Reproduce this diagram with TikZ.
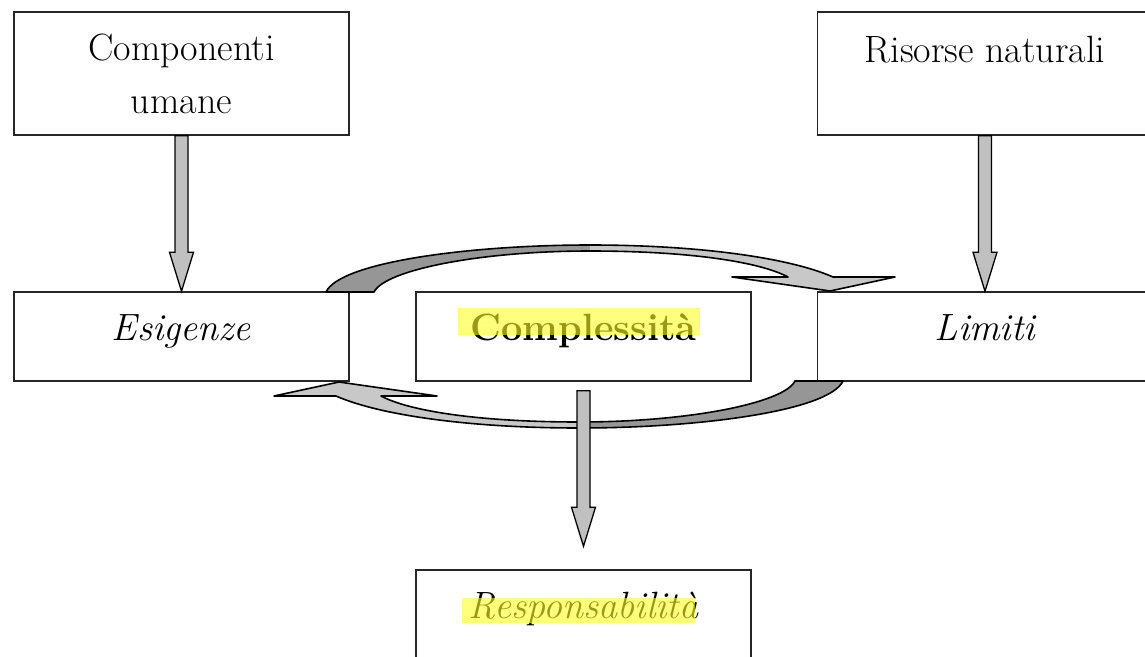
\documentclass[tikz,border=0pt]{standalone}
\usepackage{fontspec}
\usetikzlibrary{calc}

\definecolor{ribdark}{RGB}{150,150,150}
\definecolor{riblight}{RGB}{200,200,200}
\definecolor{arrowgray}{RGB}{192,192,192}
\definecolor{hiyellow}{RGB}{255,255,40}

\begin{document}
\begin{tikzpicture}[
    x=1pt, y=-1pt,
    % Define styles
    box/.style={
        rectangle,
        draw=black!85,
        fill=white,
        line width=1.5pt,
        inner sep=0pt,
        minimum width=335pt,
        align=center,
        font=\fontsize{38}{53}\selectfont
    },
    tallbox/.style={
        box,
        minimum height=123pt
    },
    flatbox/.style={
        box,
        minimum height=89pt,
        text height=24pt,
        text depth=17pt
    },
    blockarr/.style={
        draw=black,
        fill=arrowgray,
        line width=1.3pt,
        to path={let \p1=(\tikztostart), \p2=(\tikztotarget) in
            (\x1-6.5pt,\y1) -- (\x1-6.5pt,\y2+39pt) -- (\x1-12pt,\y2+39pt)
            -- (\x1,\y2)
            -- (\x1+12pt,\y2+39pt) -- (\x1+6.5pt,\y2+39pt) -- (\x1+6.5pt,\y1) -- cycle}
    },
    ribbon/.style={
        draw=black,
        line width=1.6pt,
        line join=round
    },
    hilite/.style={
        fill=hiyellow,
        fill opacity=0.6
    }
]

    \useasboundingbox (0,0) rectangle (1145,656);

    % --- Top row ---
    \node[tallbox] (cu) at (181.5,73.5) {Componenti\\umane};
    \node[tallbox, text height=24pt, text depth=47pt] (rn) at (985,73.5) {Risorse naturali};

    % --- Middle row ---
    \node[flatbox] (es) at (181.5,336.5) {\itshape Esigenze};
    \node[flatbox] (cx) at (583.5,336.5) {\bfseries Complessità};
    \node[flatbox] (li) at (985,336.5) {\itshape Limiti};

    % --- Bottom row ---
    \node[flatbox] (rs) at (583.5,614.5) {\itshape Responsabilità};

    % --- Curved arrows (the lower one is the upper one turned round) ---
    \foreach \ang in {0,180} {
        \begin{scope}[rotate around={\ang:(584.5,336.5)}]
            % tail
            \fill[ribdark] (326,292) .. controls (340,262) and (470,245) .. (590,245)
                -- (590,251) .. controls (480,251) and (385,270) .. (374,292) -- cycle;
            % head
            \fill[riblight] (590,245) .. controls (700,245) and (790,258) .. (833,277)
                -- (895,277) -- (830,291) -- (732,277) -- (788,277)
                .. controls (760,262) and (690,251) .. (590,251) -- cycle;
            % outline
            \draw[ribbon] (326,292) .. controls (340,262) and (470,245) .. (590,245)
                .. controls (700,245) and (790,258) .. (833,277)
                -- (895,277) -- (830,291) -- (732,277) -- (788,277)
                .. controls (760,262) and (690,251) .. (590,251)
                .. controls (480,251) and (385,270) .. (374,292) -- cycle;
        \end{scope}
    }

    % --- Block arrows ---
    \coordinate (cxfoot) at ([yshift=-9pt]cx.south);
    \coordinate (rstop) at ([yshift=23pt]rs.north);
    \draw[blockarr] (cu.south) to (es.north);
    \draw[blockarr] (rn.south) to (li.north);
    \draw[blockarr] (cxfoot) to (rstop);

    % Highlighter marks over the two key words
    \fill[hilite] (458,308) rectangle (700,335);
    \fill[hilite] (462,598) rectangle (695,623);

\end{tikzpicture}
\end{document}
